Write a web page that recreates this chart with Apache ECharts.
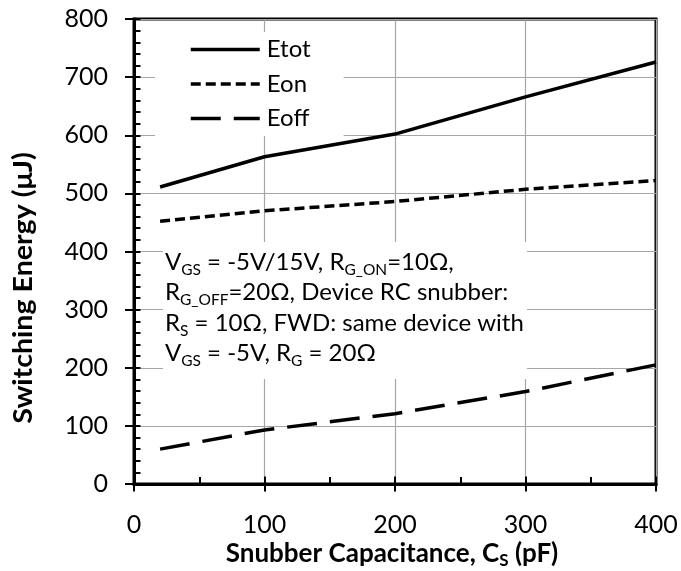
<!DOCTYPE html>
<html><head><meta charset="utf-8">
<script src="https://cdn.jsdelivr.net/npm/echarts@6/dist/echarts.min.js"></script>
<style>html,body{margin:0;padding:0;background:#fff}#c{width:681px;height:571px}</style>
</head><body><div id="c"></div>
<script>
const capacitance = [20, 100, 200, 300, 400];
const eTot = [511, 563, 602, 666, 726];
const eOn = [452, 470, 486, 507, 522];
const eOff = [60, 93, 121, 159, 205];
const seriesNames = ['Etot', 'Eon', 'Eoff'];
const xTicks = { min: 0, max: 400, interval: 100 };
const yTicks = { min: 0, max: 800, interval: 100 };

const FONT = 'Lato';
const chart = echarts.init(document.getElementById('c'));
const grid = { left: 134, top: 19, right: 25, bottom: 87, show: true, borderColor: '#000', borderWidth: 3, containLabel: false };

function mkX(primary) {
  return {
    type: 'value', min: xTicks.min, max: xTicks.max, interval: xTicks.interval, position: 'bottom',
    axisLine: { show: true, onZero: false, lineStyle: { color: '#000', width: 3 } },
    axisTick: { show: true, inside: !primary, length: 7.5, lineStyle: { color: '#000', width: 2 } },
    minorTick: { show: !primary, splitNumber: 2, length: 7, lineStyle: { color: '#000', width: 2 } },
    splitLine: { show: primary, lineStyle: { color: '#a6a6a6', width: 1.2 } },
    axisLabel: { show: primary, margin: 28, fontSize: 25, fontFamily: FONT, color: '#000' }
  };
}
function mkY(primary) {
  return {
    type: 'value', min: yTicks.min, max: yTicks.max, interval: yTicks.interval, position: 'left',
    axisLine: { show: true, onZero: false, lineStyle: { color: '#000', width: 3 } },
    axisTick: { show: true, inside: !primary, length: primary ? 9 : 6.5, lineStyle: { color: '#000', width: 2 } },
    minorTick: { show: !primary, splitNumber: 5, length: 6.5, lineStyle: { color: '#000', width: 2 } },
    splitLine: { show: primary, lineStyle: { color: '#a6a6a6', width: 1.2 } },
    axisLabel: { show: primary, margin: 26, fontSize: 25, fontFamily: FONT, color: '#000' }
  };
}
function pairs(ys) { return capacitance.map((x, i) => [x, ys[i]]); }
const lineW = 3.5;
const option = {
  animation: false,
  backgroundColor: '#fff',
  grid: grid,
  xAxis: [mkX(true), mkX(false)],
  yAxis: [mkY(true), mkY(false)],
  legend: {
    orient: 'vertical', left: 155, top: 32,
    padding: [5, 33, 5, 34], itemGap: 9.5, itemWidth: 69, itemHeight: 20,
    backgroundColor: '#fff',
    itemStyle: { color: 'rgba(0,0,0,0)', borderColor: 'rgba(0,0,0,0)', borderWidth: 0, opacity: 0 },
    lineStyle: { width: 3.5 },
    textStyle: { fontSize: 24, lineHeight: 25, fontFamily: FONT, color: '#000', padding: [0, 0, 0, 2] },
    data: seriesNames
  },
  series: [
    { name: seriesNames[0], type: 'line', data: pairs(eTot), symbol: 'none', lineStyle: { color: '#000', width: lineW }, itemStyle: { color: '#000' }, z: 5 },
    { name: seriesNames[1], type: 'line', data: pairs(eOn), symbol: 'none', lineStyle: { color: '#000', width: lineW, type: [10, 5] }, itemStyle: { color: '#000' }, z: 5 },
    { name: seriesNames[2], type: 'line', data: pairs(eOff), symbol: 'none', lineStyle: { color: '#000', width: lineW, type: [30, 13] }, itemStyle: { color: '#000' }, z: 5 }
  ],
  graphic: [
    { type: 'rect', x: 163, y: 242, shape: { x: 0, y: 0, width: 364, height: 137 }, style: { fill: '#fff' }, z: 3 },
    { type: 'text', x: 165, y: 247, z: 4, style: {
        text: '{n|V}{s|GS}{n| = -5V/15V, R}{s|G_ON}{n|=10Ω,}\n{n|R}{s|G_OFF}{n|=20Ω, Device RC snubber:}\n{n|R}{s|S}{n| = 10Ω, FWD: same device with}\n{n|V}{s|GS}{n| = -5V, R}{s|G}{n| = 20Ω}',
        verticalAlign: 'top', align: 'left',
        rich: {
          n: { fontSize: 24, fontFamily: FONT, color: '#000', lineHeight: 30.5 },
          s: { fontSize: 15.5, fontFamily: FONT, color: '#000', lineHeight: 15, verticalAlign: 'bottom' }
        }
    } },
    { type: 'text', x: 24, y: 288, rotation: Math.PI / 2, scaleX: 1.1, z: 4, style: {
        text: 'Switching Energy (μJ)', fontSize: 26, fontWeight: 'bold', fontFamily: FONT, fill: '#000',
        align: 'center', verticalAlign: 'middle'
    } },
    { type: 'text', x: 392, y: 539, z: 4, style: {
        text: '{b|Snubber Capacitance, C}{bs|S}{b| (pF)}',
        align: 'center', verticalAlign: 'top',
        rich: {
          b: { fontSize: 26, fontWeight: 'bold', fontFamily: FONT, color: '#000', lineHeight: 30 },
          bs: { fontSize: 17, fontWeight: 'bold', fontFamily: FONT, color: '#000', lineHeight: 15, verticalAlign: 'bottom' }
        }
    } }
  ]
};
chart.setOption(option);
</script></body></html>
